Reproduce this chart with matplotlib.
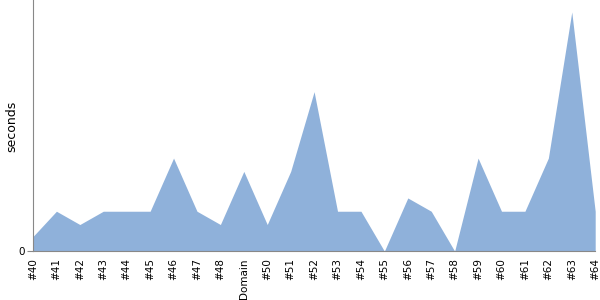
import matplotlib
matplotlib.use("Agg")
import matplotlib.pyplot as plt

builds = ["#40", "#41", "#42", "#43", "#44", "#45", "#46", "#47", "#48", "Domain",
          "#50", "#51", "#52", "#53", "#54", "#55", "#56", "#57", "#58", "#59",
          "#60", "#61", "#62", "#63", "#64"]
seconds = [1.1, 3, 2, 3, 3, 3, 7, 3, 2, 6,
           2, 6, 12, 3, 3, 0, 4, 3, 0, 7,
           3, 3, 7, 18, 3]

fig = plt.figure(figsize=(6, 3), dpi=100)
ax = fig.add_axes([0.055, 0.163, 0.937, 0.837])

x = list(range(len(builds)))
ax.fill_between(x, seconds, 0, color="#8fb1da", linewidth=0)

ax.set_xlim(0, len(builds) - 1)
ax.set_ylim(0, 18.9)
ax.set_xticks(x)
ax.set_xticklabels(builds, rotation=90, fontsize=7.5)
ax.set_yticks([0])
ax.set_yticklabels(["0"], fontsize=7.5)
ax.tick_params(axis="x", length=0, pad=5)
ax.tick_params(axis="y", length=4, color="#888888", pad=2)

# y label placed by hand so it stays inside the figure
fig.text(0.019, 0.58, "seconds", rotation=90, ha="center", va="center", fontsize=9)

for side in ["top", "right"]:
    ax.spines[side].set_visible(False)
for side in ["left", "bottom"]:
    ax.spines[side].set_color("#888888")

fig.savefig("out.png", dpi=100)
